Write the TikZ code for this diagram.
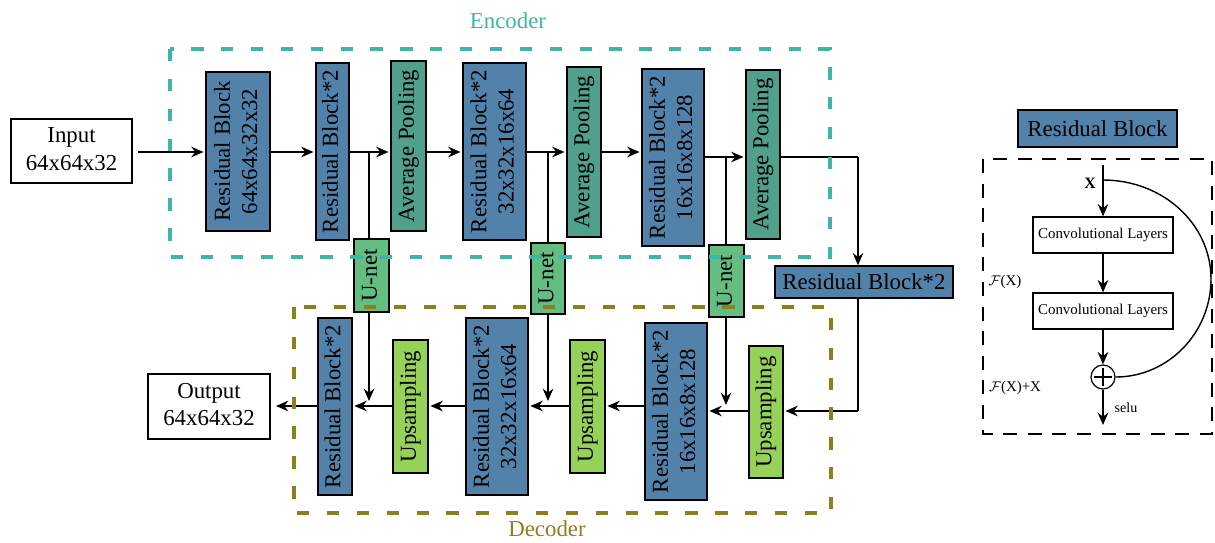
\documentclass[tikz,border=0pt]{standalone}
\usepackage{graphicx}
\usepackage{fontspec}
\setmainfont{Liberation Serif}
\usetikzlibrary{arrows.meta}
\definecolor{rbblue}{HTML}{5282AA}
\definecolor{apgreen}{HTML}{50A08C}
\definecolor{ungreen}{HTML}{64BE82}
\definecolor{upgreen}{HTML}{96D25A}
\definecolor{enccol}{HTML}{3DB5A7}
\definecolor{deccol}{HTML}{8C801E}
\newcommand{\vt}[1]{\rotatebox{90}{\begin{tabular}{@{}c@{}}#1\end{tabular}}}
\tikzset{
  sz/.style 2 args={minimum width=#1*0.02cm, minimum height=#2*0.02cm},
  blk/.style={draw=black, line width=0.8pt, inner sep=0pt, font=\fontsize{13}{15.5}\selectfont},
  rb/.style={blk, fill=rbblue},
  ap/.style={blk, fill=apgreen},
  un/.style={blk, fill=ungreen},
  up/.style={blk, fill=upgreen},
  io/.style={blk, fill=white},
  conv/.style={draw=black, line width=0.7pt, fill=white, inner sep=0pt, font=\fontsize{8.5}{10}\selectfont},
  arr/.style={line width=0.9pt, -{Stealth[length=7pt,width=6pt]}},
  ln/.style={line width=0.9pt},
  encbox/.style={draw=enccol, line width=2.8pt, dash pattern=on 7pt off 10pt},
  decbox/.style={draw=deccol, line width=2.8pt, dash pattern=on 7pt off 10pt},
}
\begin{document}
\begin{tikzpicture}[x=0.02cm,y=-0.02cm]
\useasboundingbox (0,0) rectangle (1215,542);
\fill[white] (0,0) rectangle (1215,542);
% helper coordinates
\coordinate (ey) at (0,152);
\coordinate (ey2) at (0,157);
\coordinate (dy) at (0,406);
\coordinate (dy2) at (0,411);
\coordinate (dt) at (0,401);
\coordinate (dt2) at (0,405);
\coordinate (b1) at (369,152);
\coordinate (b2) at (548,152);
\coordinate (b3) at (726,157);
\coordinate (m) at (858,157);
\coordinate (m2) at (858,411);

% encoder nodes
\node[io, sz={121}{64}] (in) at (71.5,151) {\begin{tabular}{@{}c@{}}Input\\64x64x32\end{tabular}};
\node[rb, sz={64}{159}] (rb1) at (238,151.5) {\vt{Residual Block\\64x64x32x32}};
\node[rb, sz={33}{177}] (rb2) at (332.5,151.5) {\vt{Residual Block*2}};
\node[ap, sz={35}{170}] (ap1) at (408.5,146) {\vt{Average Pooling}};
\node[rb, sz={63}{177}] (rb3) at (494.5,151.5) {\vt{Residual Block*2\\32x32x16x64}};
\node[ap, sz={34}{170}] (ap2) at (584,152) {\vt{Average Pooling}};
\node[rb, sz={62}{177}] (rb4) at (673,157.5) {\vt{Residual Block*2\\16x16x8x128}};
\node[ap, sz={34}{169}] (ap3) at (763,154.5) {\vt{Average Pooling}};
% u-net
\node[un, sz={35}{73}] (u1) at (371.5,275.5) {\vt{U-net}};
\node[un, sz={34}{71}] (u2) at (548,278.5) {\vt{U-net}};
\node[un, sz={35}{72}] (u3) at (726.5,281) {\vt{U-net}};
% middle
\node[rb, sz={178}{32}] (rbm) at (864,282) {Residual Block*2};
% decoder nodes
\node[io, sz={122}{65}] (out) at (209,406.5) {\begin{tabular}{@{}c@{}}Output\\64x64x32\end{tabular}};
\node[rb, sz={34}{177}] (rbd1) at (335,406.5) {\vt{Residual Block*2}};
\node[up, sz={35}{133}] (up1) at (410.5,406.5) {\vt{Upsampling}};
\node[rb, sz={62}{177}] (rbd2) at (497,406.5) {\vt{Residual Block*2\\32x32x16x64}};
\node[up, sz={35}{133}] (up2) at (587.5,406.5) {\vt{Upsampling}};
\node[rb, sz={62}{177}] (rbd3) at (676,411.5) {\vt{Residual Block*2\\16x16x8x128}};
\node[up, sz={34}{132}] (up3) at (766,412) {\vt{Upsampling}};

% encoder connectors
\draw[arr] ([xshift=3pt]in.east |- ey) -- ([xshift=-1pt]rb1.west |- ey);
\draw[arr] (rb1.east |- ey) -- ([xshift=-1pt]rb2.west |- ey);
\draw[arr] (rb2.east |- ey) -- ([xshift=-1pt]ap1.west |- ey);
\draw[arr] (ap1.east |- ey) -- ([xshift=-1pt]rb3.west |- ey);
\draw[arr] (rb3.east |- ey) -- ([xshift=-1pt]ap2.west |- ey);
\draw[arr] (ap2.east |- ey) -- ([xshift=-1pt]rb4.west |- ey);
\draw[arr] (rb4.east |- ey2) -- ([xshift=-1pt]ap3.west |- ey2);
\draw[ln] (ap3.east |- ey2) -- (m);
\draw[arr] (m) -- (rbm.north -| m);
\draw[ln] (rbm.south -| m) -- (m2);
\draw[arr] (m2) -- ([xshift=1pt]up3.east |- dy2);
% skip connections
\draw[ln] (b1) -- (u1.north -| b1);
\draw[ln] (b2) -- (u2.north -| b2);
\draw[ln] (b3) -- (u3.north -| b3);
\draw[arr] (u1.south -| b1) -- (b1 |- dt);
\draw[arr] (u2.south -| b2) -- (b2 |- dt);
\draw[arr] (u3.south -| b3) -- (b3 |- dt2);
% decoder connectors
\draw[arr] (up3.west |- dy2) -- ([xshift=1pt]rbd3.east |- dy2);
\draw[arr] (rbd3.west |- dy) -- ([xshift=1pt]up2.east |- dy);
\draw[arr] (up2.west |- dy) -- ([xshift=1pt]rbd2.east |- dy);
\draw[arr] (rbd2.west |- dy) -- ([xshift=1pt]up1.east |- dy);
\draw[arr] (up1.west |- dy) -- ([xshift=1pt]rbd1.east |- dy);
\draw[arr] (rbd1.west |- dy) -- ([xshift=3pt]out.east |- dy);

% dashed frames
\draw[encbox] (170,49) rectangle (830,257);
\draw[decbox] (294,307) rectangle (831,513);
\node[text=enccol, font=\fontsize{13}{15}\selectfont] (enc) at (508,21) {Encoder};
\node[text=deccol, font=\fontsize{13}{15}\selectfont] (dec) at (547,529) {Decoder};

% right panel: residual block detail
\node[rb, sz={159}{37}] (rbt) at (1097.5,128.5) {Residual Block};
\draw[line width=0.6pt, dash pattern=on 8pt off 6pt] (983,159) rectangle (1212,434);
\coordinate (xt) at (1103,165);
\coordinate (ct) at (1103,180);
\node[font=\fontsize{9}{10}\selectfont\bfseries] (xl) at (1090,183) {X};
\node[conv, sz={140}{36}] (c1) at (1103,235) {Convolutional Layers};
\node[conv, sz={140}{36}] (c2) at (1103,311) {Convolutional Layers};
\node[draw=black, line width=0.7pt, circle, inner sep=0pt, minimum size=0.48cm, fill=white] (pl) at (1103,377) {};
\draw[line width=0.7pt, shorten <=2.2pt, shorten >=2.2pt] (pl.north) -- (pl.south);
\draw[line width=0.7pt, shorten <=2.2pt, shorten >=2.2pt] (pl.west) -- (pl.east);
\coordinate (so) at (1103,425);
\draw[arr] (xt) -- (c1.north);
\draw[arr] (c1.south) -- (c2.north);
\draw[arr] (c2.south) -- (pl.north);
\draw[arr] (pl.south) -- (so);
\draw[line width=0.8pt] (ct) .. controls (1163,180) and (1211,224) .. (1211,279)
   .. controls (1211,333) and (1168,377) .. (pl.east);
\node[font=\fontsize{8.5}{10}\selectfont] (fx) at (1005,282) {$\mathcal{F}$(X)};
\node[font=\fontsize{8.5}{10}\selectfont] (fxx) at (1015,388) {$\mathcal{F}$(X)+X};
\node[font=\fontsize{8}{10}\selectfont] (selu) at (1126,408) {selu};
\end{tikzpicture}
\end{document}
